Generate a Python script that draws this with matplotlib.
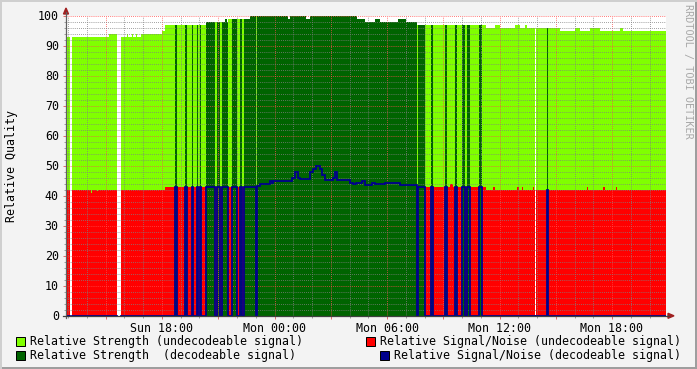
import numpy as np
import matplotlib
matplotlib.use("Agg")
import matplotlib.pyplot as plt
from matplotlib.patches import Rectangle, Polygon
from matplotlib.lines import Line2D

# ---------------- data (time in hours since Sun 00:00) ----------------
t_begin = 12.88
t_end = 44.88

# U = undecodeable, D = decodeable, G = no data
state_t = [12.88, 13.09, 13.18, 15.58, 15.80, 18.69, 18.78, 19.23, 19.32, 19.58,
           19.64, 19.85, 19.90, 20.03, 20.08, 20.37, 20.85, 20.92, 21.09, 21.18,
           21.52, 21.73, 21.98, 22.16, 22.27, 22.37, 22.99, 23.07, 31.58, 31.63,
           32.03, 32.37, 32.43, 33.09, 33.20, 33.63, 33.73, 34.00, 34.16, 34.27,
           34.43, 34.91, 35.07, 37.89, 37.95, 38.51, 38.56]
state_v = ["U", "G", "U", "G", "U", "D", "U", "D", "U", "D",
           "U", "D", "U", "D", "U", "D", "U", "D", "U", "D",
           "U", "D", "U", "D", "U", "D", "U", "D", "U", "D",
           "U", "D", "U", "D", "U", "D", "U", "D", "U", "D",
           "U", "D", "U", "G", "U", "D", "U"]

strength_t = [12.88, 15.17, 15.80, 16.12, 16.20, 16.38, 16.47, 16.60, 16.65, 16.88,
              17.98, 18.16, 20.37, 21.36, 21.47, 21.52, 22.69, 24.72, 24.83, 25.68,
              25.89, 28.40, 28.83, 29.36, 29.63, 30.59, 31.01, 31.58, 35.28, 35.76,
              36.03, 36.83, 37.09, 37.36, 37.47, 39.23, 40.03, 40.29, 40.83, 41.36,
              42.43, 42.59]
strength_v = [93, 94, 93, 94, 93, 94, 93, 94, 93, 94,
              95, 97, 98, 99, 98, 99, 100, 99, 100, 99,
              100, 99, 98, 99, 98, 99, 98, 97, 96, 97,
              96, 97, 96, 97, 96, 95, 96, 95, 96, 95,
              96, 95]

snr_t = [12.88, 14.21, 14.27, 14.53, 14.59, 18.16, 23.07, 23.23, 23.76, 23.87,
         23.92, 24.93, 25.09, 25.25, 25.36, 25.89, 26.05, 26.21, 26.43, 26.53,
         26.69, 27.12, 27.23, 27.33, 28.03, 28.19, 28.35, 28.67, 28.83, 29.20,
         29.36, 29.89, 30.05, 30.69, 31.58, 33.36, 33.52, 35.28, 35.65, 35.76,
         36.93, 37.04, 37.20, 37.25, 37.79, 37.84, 40.67, 40.72, 41.52, 41.63,
         42.21, 42.27]
snr_v = [42, 41, 42, 41.5, 42, 43, 43.3, 44.0, 44.8, 44.3,
         45.0, 45.7, 48.0, 46.0, 45.5, 48.0, 49.0, 50.0, 49.0, 47.0,
         45.2, 46.0, 48.0, 45.2, 44.1, 43.8, 44.1, 44.9, 43.5, 44.1,
         43.8, 44.2, 44.1, 43.5, 43, 44, 43, 42, 43, 42,
         43, 42, 43, 42, 43, 42, 43, 42, 43, 42,
         43, 42]

tick_hours = [18, 24, 30, 36, 42]
tick_labels = ["Sun 18:00", "Mon 00:00", "Mon 06:00", "Mon 12:00", "Mon 18:00"]

legend_labels = ["Relative Strength (undecodeable signal)",
                 "Relative Signal/Noise (undecodeable signal)",
                 "Relative Strength  (decodeable signal)",
                 "Relative Signal/Noise (decodeable signal)"]

c_light = "#80FF00"
c_red = "#FF0000"
c_dark = "#006400"
c_blue = "#00008C"

# ---------------- build step series ----------------
bounds = sorted(set(state_t) | set(strength_t) | set(snr_t))
bounds = np.array(bounds + [t_end])
starts = bounds[:-1]


def lookup(ts, vs, x):
    i = np.searchsorted(np.array(ts), x, side="right") - 1
    return vs[i]


seg_state = [lookup(state_t, state_v, s) for s in starts]
seg_str = np.array([lookup(strength_t, strength_v, s) for s in starts], float)
seg_snr = np.array([lookup(snr_t, snr_v, s) for s in starts], float)


def series(kind, vals):
    out = []
    for st, v in zip(seg_state, vals):
        if st == "G":
            out.append(np.nan)
        elif st == kind:
            out.append(v)
        else:
            out.append(0.0)
    return np.array(out)


xs = np.column_stack([bounds[:-1], bounds[1:]]).ravel()


def steps(v):
    return np.repeat(v, 2)


light = steps(series("U", seg_str))
red = steps(series("U", seg_snr))
dark = steps(series("D", seg_str))
blue = steps(series("D", seg_snr))

# ---------------- figure ----------------
W, H = 697, 369
plt.rcParams["font.family"] = ["DejaVu Sans Mono"]
fig = plt.figure(figsize=(W / 100, H / 100), dpi=100, facecolor="#F3F3F3")


def P(x, y):
    return (x / W, 1 - y / H)


ax = fig.add_axes([66 / W, 53.5 / H, 600 / W, 300 / H])
ax.set_facecolor("white")
ax.fill_between(xs, 0, light, color=c_light, linewidth=0, zorder=1)
ax.fill_between(xs, 0, red, color=c_red, linewidth=0, zorder=1.1)
ax.fill_between(xs, 0, dark, color=c_dark, linewidth=0, zorder=1.2)
ax.plot(xs, blue, color=c_blue, linewidth=1.3, zorder=3, solid_joinstyle="miter")

ax.set_xlim(t_begin, t_end)
ax.set_ylim(0, 100)
for s in ax.spines.values():
    s.set_visible(False)

lab = dict(zip(tick_hours, tick_labels))
maj_x = np.arange(15, 45, 3)
ax.set_xticks(maj_x)
ax.set_xticklabels([lab.get(int(h), "") for h in maj_x], fontsize=8.35)
ax.set_xticks(np.arange(13, 45, 1), minor=True)
ax.set_yticks(np.arange(0, 101, 10))
ax.set_yticklabels([str(v) for v in range(0, 101, 10)], fontsize=8.35)
ax.set_yticks(np.arange(0, 101, 2), minor=True)
ax.tick_params(axis="both", which="major", length=2.2, width=0.72, color="#E07070",
               direction="out")
ax.tick_params(axis="both", which="minor", length=1.5, width=0.72, color="#A0A0A0",
               direction="out")
ax.tick_params(axis="x", which="major", pad=2.5)
ax.tick_params(axis="y", which="major", pad=3.0)

ax.set_axisbelow(False)
ax.grid(True, which="minor", color=(0.5, 0.5, 0.5, 0.22), linestyle=(0, (1, 1.5)),
        linewidth=0.6)
ax.grid(True, which="major", color=(1.0, 0.3, 0.3, 0.35), linestyle=(0, (1, 1.5)),
        linewidth=0.6)

# axes lines and arrows
fig.add_artist(Line2D([P(66, 0)[0], P(66, 0)[0]], [P(0, 318)[1], P(0, 12)[1]],
                      color="#606060", linewidth=0.9))
fig.add_artist(Line2D([P(63, 0)[0], P(669, 0)[0]], [P(0, 315.8)[1], P(0, 315.8)[1]],
                      color="#404040", linewidth=0.9))
fig.add_artist(Polygon([P(63.5, 14), P(68.5, 14), P(66, 8)], closed=True,
                       transform=fig.transFigure, color="#A02020"))
fig.add_artist(Polygon([P(668, 313.3), P(668, 318.3), P(674, 315.8)], closed=True,
                       transform=fig.transFigure, color="#A02020"))

# labels
fig.text(*P(12, 166), "Relative Quality", rotation=90, ha="center", va="center",
         fontsize=8.35, color="black")
fig.text(*P(688, 4), "RRDTOOL / TOBI OETIKER", rotation=270, ha="center", va="top",
         fontsize=7.3, color="#A8A8A8")

# legend
leg_items = [(16, 341, c_light, 30, legend_labels[0]),
             (366, 341, c_red, 380, legend_labels[1]),
             (16, 355, c_dark, 30, legend_labels[2]),
             (380, 355, c_blue, 394, legend_labels[3])]
for sx, sy, col, tx, txt in leg_items:
    x0, y0 = P(sx, sy + 4.5)
    fig.add_artist(Rectangle((x0, y0), 8.5 / W, 8.5 / H, transform=fig.transFigure,
                             facecolor=col, edgecolor="black", linewidth=0.72))
    fig.text(*P(tx, sy), txt, ha="left", va="center", fontsize=8.35, color="black")

# frame shading
fig.add_artist(Rectangle((0, 0), 1, 2 / H, transform=fig.transFigure, color="#9E9E9E", lw=0))
fig.add_artist(Rectangle((1 - 2 / W, 0), 2 / W, 1, transform=fig.transFigure, color="#9E9E9E", lw=0))
fig.add_artist(Rectangle((0, 1 - 2 / H), 1, 2 / H, transform=fig.transFigure, color="#CFCFCF", lw=0))
fig.add_artist(Rectangle((0, 0), 2 / W, 1, transform=fig.transFigure, color="#CFCFCF", lw=0))

fig.savefig("out.png", dpi=100, facecolor=fig.get_facecolor())
